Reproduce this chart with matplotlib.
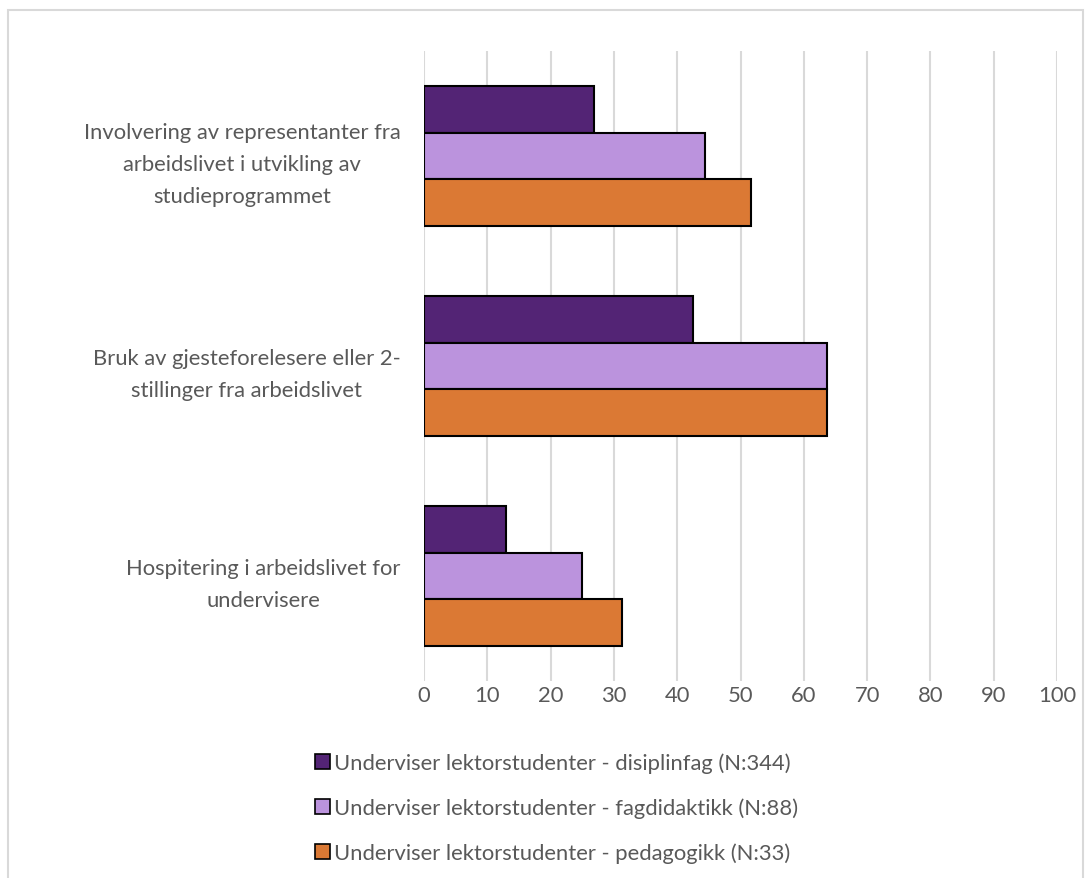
import numpy as np
import matplotlib
matplotlib.use('Agg')
import matplotlib.pyplot as plt
from matplotlib.patches import Rectangle, Patch

categories = [
    "Involvering av representanter fra\narbeidslivet i utvikling av\nstudieprogrammet",
    "Bruk av gjesteforelesere eller 2-\nstillinger fra arbeidslivet",
    "Hospitering i arbeidslivet for\nundervisere",
]
series_names = [
    "Underviser lektorstudenter - disiplinfag (N:344)",
    "Underviser lektorstudenter - fagdidaktikk (N:88)",
    "Underviser lektorstudenter - pedagogikk (N:33)",
]
disiplinfag = [26.8, 42.5, 12.9]
fagdidaktikk = [44.4, 63.7, 25.0]
pedagogikk = [51.6, 63.7, 31.3]
xticks = [0, 10, 20, 30, 40, 50, 60, 70, 80, 90, 100]

colors = ['#532475', '#bb93dd', '#db7934']
text_col = '#595959'

plt.rcParams['font.family'] = ['Lato', 'DejaVu Sans']
fs = 15.8

W, H = 1092, 879
fig = plt.figure(figsize=(W / 100, H / 100), dpi=100)
fig.patches.append(Rectangle((8 / W, -0.01), 1075 / W, 1 - 11 / H + 0.01,
                             transform=fig.transFigure, fill=False,
                             edgecolor='#d9d9d9', linewidth=1.5))

ax = fig.add_axes([424 / W, 1 - 682 / H, 633 / W, 630 / H])

y = np.arange(len(categories))
h = 0.223
for i, vals in enumerate([disiplinfag, fagdidaktikk, pedagogikk]):
    ax.barh(y + (i - 1) * h, vals, height=h, color=colors[i],
            edgecolor='black', linewidth=1.5, zorder=3)

ax.set_xlim(0, 100)
ax.set_ylim(2.5, -0.5)
ax.set_xticks(xticks)
ax.set_xticklabels([str(t) for t in xticks])
ax.set_yticks(y)
ax.set_yticklabels(categories, multialignment='center')
ax.tick_params(axis='both', length=0, labelsize=fs, colors=text_col)
ax.tick_params(axis='x', pad=3)
ax.tick_params(axis='y', pad=17)
for lab in ax.get_yticklabels():
    lab.set_linespacing(1.75)
ax.grid(axis='x', color='#d9d9d9', linewidth=1.5, zorder=0)
for s in ax.spines.values():
    s.set_visible(False)

handles = [Patch(facecolor=c, edgecolor='black', linewidth=1.2) for c in colors]
leg = fig.legend(handles, series_names, loc='upper left',
                 bbox_to_anchor=(295 / W, 1 - 734 / H), frameon=False,
                 handlelength=0.68, handleheight=0.68, handletextpad=0.2,
                 labelspacing=1.1, fontsize=fs)
for t in leg.get_texts():
    t.set_color(text_col)

fig.savefig('out.png', dpi=100)
